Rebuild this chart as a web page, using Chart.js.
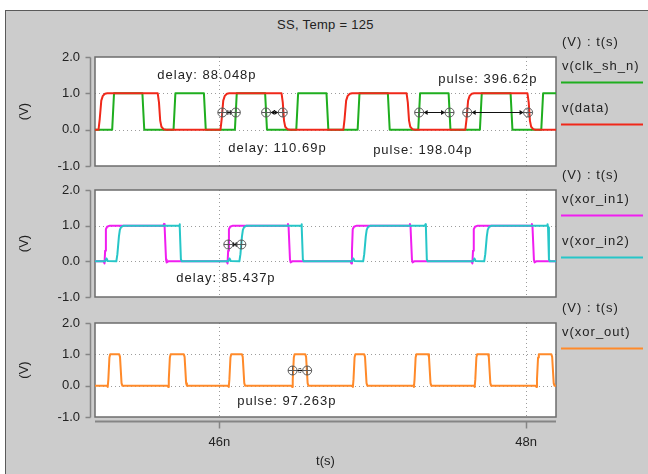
<!DOCTYPE html>
<html>
<head>
<meta charset="utf-8">
<title>SS, Temp = 125</title>
<script src="https://cdn.jsdelivr.net/npm/chart.js@4.4.0/dist/chart.umd.min.js"></script>
<style>
  html, body { margin: 0; padding: 0; background: #fff; }
  #wrap { position: relative; width: 648px; height: 474px; overflow: hidden; }
  #panel {
    position: absolute; left: 5px; top: 10px; width: 660px; height: 480px;
    background: #cccccc; border: 1px solid #5a5a5a;
  }
  #title {
    position: absolute; left: 95px; width: 461px; top: 17px; text-align: center;
    font: 13px 'Liberation Sans', Arial, sans-serif; color: #222; letter-spacing: 0.3px;
  }
  canvas { position: absolute; left: 0; top: 0; }
</style>
</head>
<body>
<div id="wrap">
  <div id="panel"></div>
  <div id="title">SS, Temp = 125</div>
  <canvas id="c1" width="648" height="474"></canvas>
  <canvas id="c2" width="648" height="474"></canvas>
  <canvas id="c3" width="648" height="474"></canvas>
</div>
<script>
// time axis in ns, values in V
const tMin = 45.19;
const tMax = 48.195;
const timeTicks = [46, 48];
const voltTicks = [-1, 0, 1, 2];

// v(clk_sh_n)
const clkShN = [
  [45.19, 0], [45.302, 0], [45.314, 1], [45.499, 1], [45.511, 0],
  [45.702, 0], [45.714, 1], [45.900, 1], [45.912, 0],
  [46.102, 0], [46.114, 1], [46.299, 1], [46.311, 0],
  [46.502, 0], [46.514, 1], [46.699, 1], [46.711, 0],
  [46.902, 0], [46.914, 1], [47.099, 1], [47.111, 0],
  [47.297, 0], [47.309, 1], [47.495, 1], [47.507, 0],
  [47.699, 0], [47.711, 1], [47.899, 1], [47.911, 0],
  [48.099, 0], [48.111, 1], [48.195, 1]
];

// v(data)
const dataSig = [
  [45.19, 0], [45.213, 0], [45.221, 0.3], [45.231, 0.8], [45.241, 0.93], [45.255, 0.99], [45.27, 1],
  [45.599, 1], [45.607, 0.75], [45.615, 0.25], [45.623, 0.08], [45.638, 0.01], [45.653, 0],
  [46.008, 0], [46.016, 0.3], [46.026, 0.8], [46.036, 0.93], [46.05, 0.99], [46.065, 1],
  [46.406, 1], [46.414, 0.75], [46.422, 0.25], [46.43, 0.08], [46.445, 0.01], [46.46, 0],
  [46.809, 0], [46.817, 0.3], [46.827, 0.8], [46.837, 0.93], [46.851, 0.99], [46.866, 1],
  [47.221, 1], [47.229, 0.75], [47.237, 0.25], [47.245, 0.08], [47.26, 0.01], [47.275, 0],
  [47.604, 0], [47.612, 0.3], [47.622, 0.8], [47.632, 0.93], [47.646, 0.99], [47.661, 1],
  [48.009, 1], [48.017, 0.75], [48.025, 0.25], [48.033, 0.08], [48.048, 0.01], [48.063, 0],
  [48.195, 0]
];

// v(xor_in1)
const xorIn1 = [
  [45.19, 0],
  [45.247, 0], [45.252, -0.06], [45.256, 0.3], [45.261, 0.9], [45.269, 0.97], [45.287, 1],
  [45.636, 1], [45.640, 1.05], [45.644, 0.95], [45.653, 0.05], [45.657, -0.03], [45.668, 0],
  [46.049, 0], [46.054, -0.06], [46.058, 0.3], [46.063, 0.9], [46.071, 0.97], [46.089, 1],
  [46.444, 1], [46.448, 1.05], [46.452, 0.95], [46.461, 0.05], [46.465, -0.03], [46.476, 0],
  [46.856, 0], [46.861, -0.06], [46.865, 0.3], [46.870, 0.9], [46.878, 0.97], [46.896, 1],
  [47.239, 1], [47.243, 1.05], [47.247, 0.95], [47.256, 0.05], [47.260, -0.03], [47.271, 0],
  [47.645, 0], [47.650, -0.06], [47.654, 0.3], [47.659, 0.9], [47.667, 0.97], [47.685, 1],
  [48.034, 1], [48.038, 1.05], [48.042, 0.95], [48.051, 0.05], [48.055, -0.03], [48.066, 0],
  [48.195, 0]
];

// v(xor_in2)
const xorIn2 = [
  [45.19, 0],
  [45.257, 0], [45.265, 0.08], [45.273, 0.01],
  [45.329, 0], [45.336, 0.2], [45.346, 0.7], [45.352, 0.88], [45.360, 0.96], [45.377, 1],
  [45.738, 1], [45.741, 1.04], [45.744, 0.95], [45.750, 0.05], [45.756, 0],
  [46.059, 0], [46.067, 0.08], [46.075, 0.01],
  [46.131, 0], [46.138, 0.2], [46.148, 0.7], [46.154, 0.88], [46.162, 0.96], [46.179, 1],
  [46.533, 1], [46.536, 1.04], [46.539, 0.95], [46.545, 0.05], [46.551, 0],
  [46.866, 0], [46.874, 0.08], [46.882, 0.01],
  [46.938, 0], [46.945, 0.2], [46.955, 0.7], [46.961, 0.88], [46.969, 0.96], [46.986, 1],
  [47.341, 1], [47.344, 1.04], [47.347, 0.95], [47.353, 0.05], [47.359, 0],
  [47.655, 0], [47.663, 0.08], [47.671, 0.01],
  [47.727, 0], [47.734, 0.2], [47.744, 0.7], [47.750, 0.88], [47.758, 0.96], [47.775, 1],
  [48.137, 1], [48.140, 1.04], [48.143, 0.95], [48.149, 0.05], [48.155, 0],
  [48.195, 0]
];

// v(xor_out)
const xorOut = [
  [45.19, 0],
  [45.267, 0], [45.273, -0.04], [45.277, 0.2], [45.284, 0.9], [45.289, 1], [45.348, 1], [45.353, 0.92], [45.363, 0.08], [45.368, 0],
  [45.661, 0], [45.667, -0.04], [45.671, 0.2], [45.678, 0.9], [45.683, 1], [45.769, 1], [45.774, 0.92], [45.784, 0.08], [45.789, 0],
  [46.056, 0], [46.062, -0.04], [46.066, 0.2], [46.073, 0.9], [46.078, 1], [46.148, 1], [46.153, 0.92], [46.163, 0.08], [46.168, 0],
  [46.469, 0], [46.475, -0.04], [46.479, 0.2], [46.486, 0.9], [46.491, 1], [46.561, 1], [46.566, 0.92], [46.576, 0.08], [46.581, 0],
  [46.865, 0], [46.871, -0.04], [46.875, 0.2], [46.882, 0.9], [46.887, 1], [46.945, 1], [46.950, 0.92], [46.960, 0.08], [46.965, 0],
  [47.263, 0], [47.269, -0.04], [47.273, 0.2], [47.280, 0.9], [47.285, 1], [47.362, 1], [47.367, 0.92], [47.377, 0.08], [47.382, 0],
  [47.659, 0], [47.665, -0.04], [47.669, 0.2], [47.676, 0.9], [47.681, 1], [47.752, 1], [47.757, 0.92], [47.767, 0.08], [47.772, 0],
  [48.061, 0], [48.067, -0.04], [48.071, 0.2], [48.078, 0.9], [48.083, 1], [48.165, 1], [48.170, 0.92], [48.180, 0.08], [48.185, 0],
  [48.195, 0]
];

// measurement cursors: [t start, t end, level]
const cursors1 = [[46.020, 46.108, 0.5], [46.305, 46.414, 0.5], [47.303, 47.501, 0.5], [47.616, 48.013, 0.5]];
const cursorText1 = ['delay: 88.048p', 'delay: 110.69p', 'pulse: 198.04p', 'pulse: 396.62p'];
const cursors2 = [[46.059, 46.144, 0.5]];
const cursorText2 = ['delay: 85.437p'];
const cursors3 = [[46.478, 46.573, 0.5]];
const cursorText3 = ['pulse: 97.263p'];

const FONT = "'Liberation Sans', Arial, sans-serif";
const INK = '#222222';
Chart.defaults.font.family = FONT;
Chart.defaults.font.size = 13;
Chart.defaults.color = INK;

function line(ctx, x1, y1, x2, y2) {
  ctx.moveTo(x1, y1);
  ctx.lineTo(x2, y2);
}

const wavePlugin = {
  id: 'wave',
  beforeDraw(chart) {
    const { ctx, chartArea: a, scales: { x, y } } = chart;
    ctx.save();
    ctx.fillStyle = '#ffffff';
    ctx.fillRect(a.left, a.top, a.right - a.left, a.bottom - a.top);

    // dotted grid
    ctx.strokeStyle = '#9c9c9c';
    ctx.lineWidth = 1;
    ctx.setLineDash([1, 3]);
    ctx.beginPath();
    x.ticks.forEach(t => {
      const px = Math.round(x.getPixelForValue(t.value)) + 0.5;
      line(ctx, px, a.top, px, a.bottom);
    });
    y.ticks.forEach(t => {
      if (t.value <= y.min || t.value >= y.max) return;
      const py = Math.round(y.getPixelForValue(t.value)) + 0.5;
      line(ctx, a.left, py, a.right, py);
    });
    ctx.stroke();
    ctx.setLineDash([]);

    // frame
    ctx.strokeStyle = '#6c6c6c';
    ctx.lineWidth = 1.5;
    ctx.strokeRect(a.left, a.top, a.right - a.left, a.bottom - a.top);

    // y axis line with ticks
    ctx.strokeStyle = '#858585';
    ctx.beginPath();
    const ax = a.left - 4.5;
    line(ctx, ax, Math.round(y.getPixelForValue(y.max)) + 0.5, ax, Math.round(y.getPixelForValue(y.min)) + 0.5);
    y.ticks.forEach(t => {
      const py = Math.round(y.getPixelForValue(t.value)) + 0.5;
      line(ctx, ax - 5, py, ax, py);
    });
    ctx.stroke();

    // time axis (bottom panel only)
    if (x.options.ticks.display) {
      const ay = a.bottom + 4.5;
      ctx.lineWidth = 2;
      ctx.beginPath();
      line(ctx, a.left, ay, a.right, ay);
      ctx.stroke();
      ctx.lineWidth = 1.5;
      ctx.beginPath();
      x.ticks.forEach(t => {
        const px = Math.round(x.getPixelForValue(t.value)) + 0.5;
        line(ctx, px, ay, px, ay + 7);
      });
      ctx.stroke();
    }
    ctx.restore();
  },
  afterDatasetsDraw(chart, args, opts) {
    const { ctx, chartArea: a, scales: { x, y } } = chart;
    ctx.save();
    ctx.font = '13px ' + FONT;
    ctx.letterSpacing = '1px';
    ctx.textBaseline = 'middle';
    ctx.textAlign = 'left';
    ctx.fillStyle = INK;

    (opts.cursors || []).forEach(([t1, t2, v], i) => {
      const x1 = x.getPixelForValue(t1);
      const x2 = x.getPixelForValue(t2);
      const py = Math.round(y.getPixelForValue(v)) + 0.5;
      const r = 4.5;
      ctx.strokeStyle = '#111';
      ctx.lineWidth = 1;
      ctx.beginPath();
      line(ctx, x1 + r, py, x2 - r, py);
      ctx.stroke();
      ctx.fillStyle = '#111';
      ctx.beginPath();
      ctx.moveTo(x2 - r, py); ctx.lineTo(x2 - r - 4, py - 2.5); ctx.lineTo(x2 - r - 4, py + 2.5);
      ctx.closePath();
      ctx.moveTo(x1 + r, py); ctx.lineTo(x1 + r + 4, py - 2.5); ctx.lineTo(x1 + r + 4, py + 2.5);
      ctx.closePath();
      ctx.fill();
      ctx.strokeStyle = '#5a5a5a';
      [x1, x2].forEach(px => {
        ctx.beginPath();
        ctx.arc(px, py, r, 0, Math.PI * 2);
        line(ctx, px - r, py, px + r, py);
        line(ctx, px, py - r, px, py + r);
        ctx.stroke();
      });
      const at = opts.noteAt[i];
      ctx.fillStyle = INK;
      ctx.fillText(opts.notes[i], x.getPixelForValue(at[0]), y.getPixelForValue(at[1]));
    });

    // legend: unit header, then name over a colour line
    ctx.fillStyle = INK;
    ctx.fillText('(V) : t(s)', 562, a.top - 15);
    chart.data.datasets.forEach((ds, i) => {
      ctx.fillStyle = INK;
      ctx.fillText(ds.label, 562, a.top + 9.5 + 41.5 * i);
      ctx.strokeStyle = ds.borderColor;
      ctx.lineWidth = 2;
      ctx.beginPath();
      line(ctx, 561, a.top + 25.5 + 42 * i, 643, a.top + 25.5 + 42 * i);
      ctx.stroke();
    });
    ctx.restore();
  }
};

function makeChart(id, series, area, showTime, cursors, notes, noteAt) {
  return new Chart(document.getElementById(id), {
    type: 'line',
    data: {
      datasets: series.map((s, i) => ({
        label: s.name,
        data: s.points.map(p => ({ x: p[0], y: p[1] })),
        borderColor: s.color,
        borderWidth: 2,
        borderJoinStyle: 'round',
        borderCapStyle: 'round',
        pointRadius: 0,
        fill: false,
        tension: 0,
        order: series.length - i
      }))
    },
    options: {
      responsive: false,
      animation: false,
      events: [],
      layout: { padding: { left: 0, right: 92, top: area.top, bottom: showTime ? 0 : 474 - area.bottom } },
      plugins: {
        legend: { display: false },
        tooltip: { enabled: false },
        wave: { cursors, notes, noteAt }
      },
      scales: {
        x: {
          type: 'linear',
          min: tMin,
          max: tMax,
          afterBuildTicks: s => { s.ticks = timeTicks.map(v => ({ value: v })); },
          afterFit: s => { s.height = showTime ? 474 - area.bottom : 0; },
          grid: { display: false, drawTicks: false },
          border: { display: false },
          ticks: { display: showTime, padding: 18, autoSkip: false, maxRotation: 0, callback: v => v + 'n' },
          title: { display: showTime, text: 't(s)', padding: { top: 0, bottom: 5 } }
        },
        y: {
          type: 'linear',
          min: -1,
          max: 2,
          afterBuildTicks: s => { s.ticks = voltTicks.map(v => ({ value: v })); },
          afterFit: s => { s.width = 95; },
          grid: { display: false, drawTicks: false },
          border: { display: false },
          ticks: { padding: 15, callback: v => v.toFixed(1) },
          title: { display: true, text: '(V)', padding: { top: 17, bottom: 0 } }
        }
      }
    },
    plugins: [wavePlugin]
  });
}

makeChart('c1', [
  { name: 'v(clk_sh_n)', points: clkShN, color: '#1fae1f' },
  { name: 'v(data)', points: dataSig, color: '#f0281a' }
], { top: 57, bottom: 166 }, false, cursors1, cursorText1,
  [[45.596, 1.49], [46.059, -0.52], [47.003, -0.58], [47.427, 1.38]]);

makeChart('c2', [
  { name: 'v(xor_in1)', points: xorIn1, color: '#f01ef0' },
  { name: 'v(xor_in2)', points: xorIn2, color: '#26c6c8' }
], { top: 190, bottom: 297 }, false, cursors2, cursorText2,
  [[45.72, -0.48]]);

makeChart('c3', [
  { name: 'v(xor_out)', points: xorOut, color: '#ff8a2a' }
], { top: 323, bottom: 417 }, true, cursors3, cursorText3,
  [[46.117, -0.51]]);
</script>
</body>
</html>
